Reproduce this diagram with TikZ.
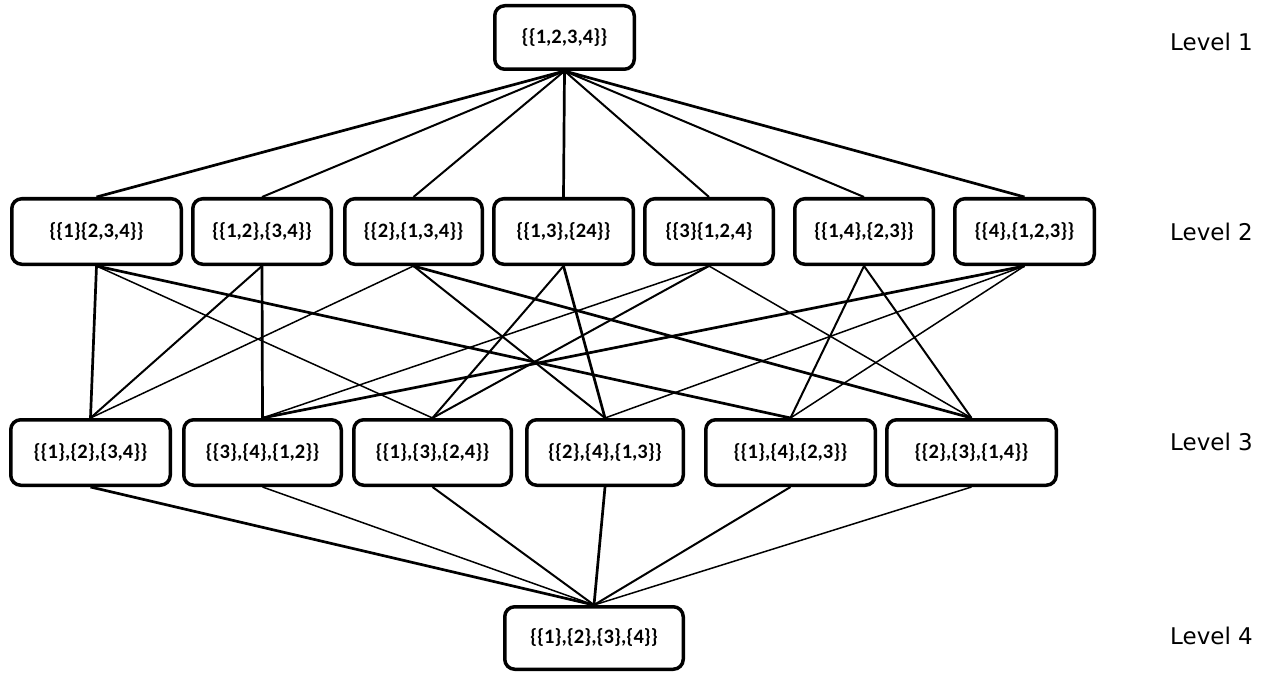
\documentclass[tikz,border=0pt]{standalone}
\usepackage{fontspec}
\setmainfont{Carlito}
\newfontfamily\lvlfont{DejaVu Sans}
\begin{document}
\begin{tikzpicture}[x=1pt,y=-1pt,
  part/.style={draw, rounded corners=10pt, line width=3.5pt, inner sep=0pt,
    font=\bfseries\fontsize{20.5}{24}\selectfont, minimum height=65.5pt},
  lvl/.style={font=\lvlfont\fontsize{23}{26}\selectfont, anchor=base west, inner sep=0pt},
  e/.style={line width=2pt},
  ethick/.style={line width=2.7pt},
  ethin/.style={line width=1.5pt}]
\useasboundingbox (0,0) rectangle (1276,679);

% level 1
\node[part, minimum width=139.5pt, minimum height=63.5pt] (T) at (564.5,37.5) {\{\{1,2,3,4\}\}};

% level 2: two blocks
\node[part, minimum width=169.5pt] (A1) at (96.5,231.5)  {\{\{1\}\{2,3,4\}\}};
\node[part, minimum width=138.5pt] (A2) at (262,231.5)   {\{\{1,2\},\{3,4\}\}};
\node[part, minimum width=137.5pt] (A3) at (413.5,231.5) {\{\{2\},\{1,3,4\}\}};
\node[part, minimum width=139.5pt] (A4) at (563.5,231.5) {\{\{1,3\},\{24\}\}};
\node[part, minimum width=128.5pt] (A5) at (709,231.5)   {\{\{3\}\{1,2,4\}};
\node[part, minimum width=138.5pt] (A6) at (864,231.5)   {\{\{1,4\},\{2,3\}\}};
\node[part, minimum width=139.5pt] (A7) at (1024.5,231.5){\{\{4\},\{1,2,3\}\}};

% level 3: three blocks
\node[part, minimum width=159.5pt] (B1) at (90.5,452.5)  {\{\{1\},\{2\},\{3,4\}\}};
\node[part, minimum width=157.5pt] (B2) at (262.5,452.5) {\{\{3\},\{4\},\{1,2\}\}};
\node[part, minimum width=157.5pt] (B3) at (432.5,452.5) {\{\{1\},\{3\},\{2,4\}\}};
\node[part, minimum width=156.5pt] (B4) at (605,452.5)   {\{\{2\},\{4\},\{1,3\}\}};
\node[part, minimum width=169.5pt] (B5) at (790.5,452.5) {\{\{1\},\{4\},\{2,3\}\}};
\node[part, minimum width=169.5pt] (B6) at (971.5,452.5) {\{\{2\},\{3\},\{1,4\}\}};

% level 4
\node[part, minimum width=178.5pt, minimum height=62.5pt] (Z) at (594,638) {\{\{1\},\{2\},\{3\},\{4\}\}};

% level captions
\node[lvl] (L1) at (1170,51)  {Level 1};
\node[lvl] (L2) at (1170,240) {Level 2};
\node[lvl] (L3) at (1170,450) {Level 3};
\node[lvl] (L4) at (1170,644) {Level 4};

% level 1 -> level 2
\draw[ethick] (T.south) -- (A1.north);
\draw[e]      (T.south) -- (A2.north);
\draw[e]      (T.south) -- (A3.north);
\draw[ethick] (T.south) -- (A4.north);
\draw[e]      (T.south) -- (A5.north);
\draw[e]      (T.south) -- (A6.north);
\draw[ethick] (T.south) -- (A7.north);

% level 2 -> level 3
\draw[ethick] (A1.south) -- (B1.north);
\draw[ethin]  (A1.south) -- (B3.north);
\draw[ethick] (A1.south) -- (B5.north);
\draw[e]      (A2.south) -- (B1.north);
\draw[ethick] (A2.south) -- (B2.north);
\draw[ethin]  (A3.south) -- (B1.north);
\draw[e]      (A3.south) -- (B4.north);
\draw[ethick] (A3.south) -- (B6.north);
\draw[e]      (A4.south) -- (B3.north);
\draw[ethick] (A4.south) -- (B4.north);
\draw[ethin]  (A5.south) -- (B2.north);
\draw[e]      (A5.south) -- (B3.north);
\draw[ethin]  (A5.south) -- (B6.north);
\draw[e]      (A6.south) -- (B5.north);
\draw[e]      (A6.south) -- (B6.north);
\draw[ethick] (A7.south) -- (B2.north);
\draw[ethin]  (A7.south) -- (B4.north);
\draw[ethin]  (A7.south) -- (B5.north);

% level 3 -> level 4
\draw[ethick] (B1.south) -- (Z.north);
\draw[ethin]  (B2.south) -- (Z.north);
\draw[e]      (B3.south) -- (Z.north);
\draw[ethick] (B4.south) -- (Z.north);
\draw[e]      (B5.south) -- (Z.north);
\draw[ethin]  (B6.south) -- (Z.north);
\end{tikzpicture}
\end{document}
